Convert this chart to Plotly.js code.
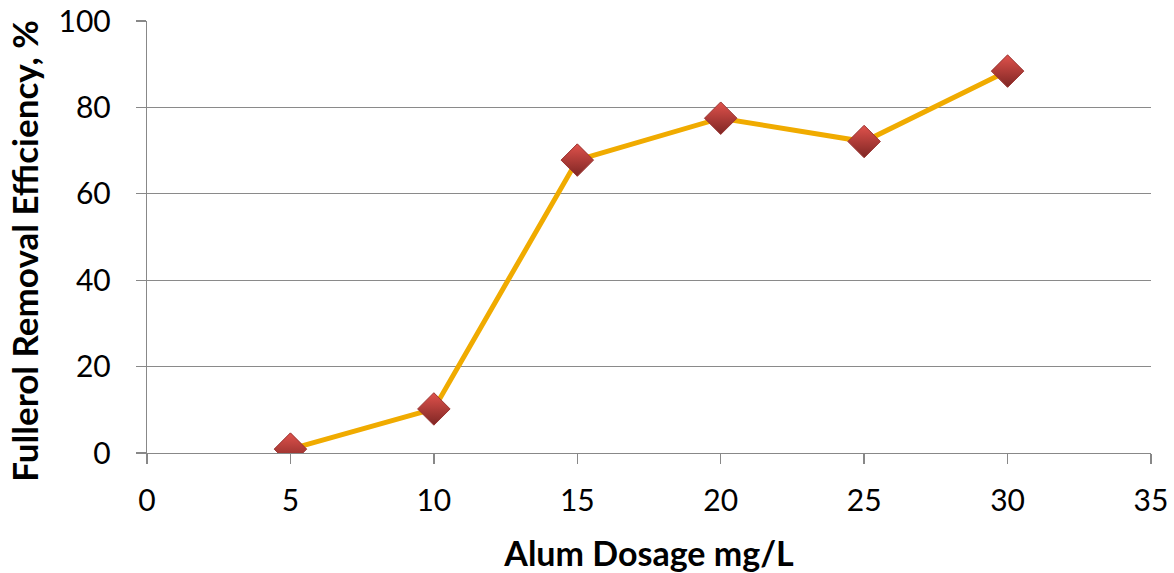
<!DOCTYPE html>
<html><head><meta charset="utf-8">
<script src="https://cdn.plot.ly/plotly-3.0.1.min.js"></script>
<style>html,body{margin:0;padding:0;background:#fff}#c{width:1174px;height:573px}</style>
</head><body><div id="c"></div>
<script>
const dosage = [5, 10, 15, 20, 25, 30];
const efficiency = [0.9, 10.2, 67.8, 77.5, 72.1, 88.4];
const xTicks = [0, 5, 10, 15, 20, 25, 30, 35];
const yTicks = [0, 20, 40, 60, 80, 100];
const xTitle = 'Alum Dosage mg/L';
const yTitle = 'Fullerol Removal Efficiency, %';

const trace = {
  x: dosage, y: efficiency, type: 'scatter', mode: 'lines+markers',
  line: {color: '#F0AB00', width: 5},
  marker: {symbol: 'diamond', size: 25, color: '#E0524C',
           gradient: {type: 'vertical', color: '#7E2624'},
           line: {color: '#9A3330', width: 1}},
  hoverinfo: 'none'
};
const font = 'Lato, "Open Sans", sans-serif';
const layout = {
  width: 1174, height: 573,
  margin: {l: 147, r: 23, t: 21, b: 120},
  paper_bgcolor: '#fff', plot_bgcolor: '#fff',
  showlegend: false,
  font: {family: font, color: '#000'},
  xaxis: {
    range: [0, 35], tickvals: xTicks, ticktext: xTicks.map(String),
    showgrid: false, zeroline: false, showline: true, linecolor: '#888', linewidth: 1.3,
    ticks: 'outside', ticklen: 10, tickcolor: '#888', tickwidth: 1.3,
    ticklabelstandoff: 11,
    tickfont: {size: 30, family: font},
    title: {text: '<b>' + xTitle + '</b>', font: {size: 34, family: font}, standoff: 27}
  },
  yaxis: {
    range: [0, 100], tickvals: yTicks, ticktext: yTicks.map(String),
    showgrid: true, gridcolor: '#8a8a8a', gridwidth: 1.2,
    zeroline: false, showline: true, linecolor: '#888', linewidth: 1.3,
    ticks: 'outside', ticklen: 10, tickcolor: '#888', tickwidth: 1.3,
    ticklabelstandoff: 19,
    tickfont: {size: 30, family: font}
  },
  annotations: [{
    text: '<b>' + yTitle + '</b>', textangle: -90, showarrow: false,
    xref: 'paper', yref: 'paper', x: -0.122, y: 0.467,
    xanchor: 'center', yanchor: 'middle',
    font: {size: 35, family: font, color: '#000'}
  }]
};
Plotly.newPlot('c', [trace], layout, {staticPlot: true});
</script></body></html>
